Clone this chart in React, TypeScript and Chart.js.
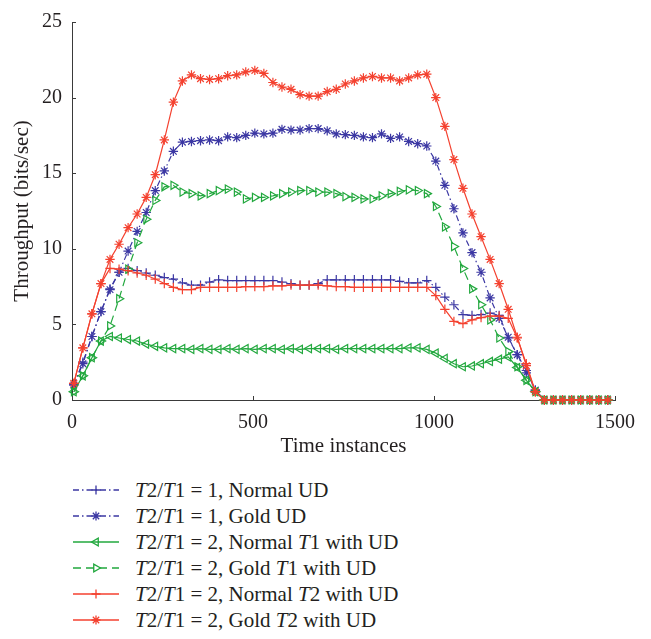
import React, { useEffect, useRef } from 'react';
import { Chart, registerables } from 'chart.js';

Chart.register(...registerables);

// ---- data ----
const timeInstances = [
  5, 30, 55, 80, 105, 130, 155, 180, 205, 230,
  255, 280, 305, 330, 355, 380, 405, 430, 455, 480,
  505, 530, 555, 580, 605, 630, 655, 680, 705, 730,
  755, 780, 805, 830, 855, 880, 905, 930, 955, 980,
  1005, 1030, 1055, 1080, 1105, 1130, 1155, 1180, 1205, 1230,
  1255, 1280, 1305, 1330, 1355, 1380, 1405, 1430, 1455, 1480,
];

const normalUD = [
  1.0, 2.5, 4.2, 5.85, 7.35, 8.45, 8.7, 8.55, 8.4, 8.25,
  8.1, 8.0, 7.75, 7.6, 7.6, 7.8, 7.95, 7.9, 7.9, 7.9,
  7.9, 7.9, 7.9, 7.8, 7.7, 7.6, 7.6, 7.7, 7.95, 7.95,
  7.95, 7.95, 7.95, 7.95, 7.95, 7.95, 7.85, 7.75, 7.75, 7.9,
  7.45, 6.8, 6.3, 5.65, 5.6, 5.65, 5.75, 5.6, 4.1, 3.0,
  1.95, 0.65, 0, 0, 0, 0, 0, 0, 0, 0,
];

const goldUD = [
  1.0, 2.4, 4.2, 5.85, 7.3, 8.45, 9.85, 11.15, 12.4, 13.85,
  15.15, 16.45, 17.05, 17.1, 17.15, 17.2, 17.15, 17.4, 17.35, 17.5,
  17.65, 17.6, 17.65, 17.9, 17.85, 17.85, 17.95, 17.95, 17.8, 17.6,
  17.55, 17.5, 17.4, 17.35, 17.6, 17.3, 17.4, 17.1, 16.95, 16.8,
  15.8, 14.2, 12.65, 11.05, 9.75, 8.45, 6.75, 5.4, 4.15, 3.0,
  1.8, 0.65, 0, 0, 0, 0, 0, 0, 0, 0,
];

const normalT1 = [
  0.55, 1.6, 2.8, 3.9, 4.2, 4.1, 4.0, 3.9, 3.7, 3.55,
  3.45, 3.4, 3.4, 3.35, 3.4, 3.35, 3.35, 3.4, 3.35, 3.4,
  3.35, 3.4, 3.4, 3.35, 3.4, 3.35, 3.4, 3.4, 3.4, 3.35,
  3.4, 3.4, 3.4, 3.4, 3.4, 3.4, 3.4, 3.45, 3.45, 3.35,
  3.1, 2.75, 2.4, 2.2, 2.25, 2.4, 2.55, 2.7, 2.85, 2.15,
  1.3, 0.55, 0, 0, 0, 0, 0, 0, 0, 0,
];

const goldT1 = [
  0.55, 1.6, 2.8, 3.9, 4.9, 6.7, 8.65, 10.4, 11.95, 13.2,
  14.1, 14.2, 13.75, 13.65, 13.5, 13.65, 13.85, 13.95, 13.75, 13.3,
  13.4, 13.4, 13.5, 13.65, 13.75, 13.85, 13.85, 13.75, 13.75, 13.65,
  13.45, 13.4, 13.3, 13.3, 13.5, 13.65, 13.8, 13.9, 13.85, 13.65,
  12.8, 11.45, 10.15, 8.7, 7.35, 6.3, 5.3, 4.1, 3.2, 2.2,
  1.3, 0.55, 0, 0, 0, 0, 0, 0, 0, 0,
];

const normalT2 = [
  1.1, 3.45, 5.7, 7.7, 8.7, 8.65, 8.55, 8.4, 8.25, 8.0,
  7.7, 7.45, 7.3, 7.3, 7.45, 7.45, 7.45, 7.45, 7.45, 7.5,
  7.5, 7.5, 7.55, 7.55, 7.6, 7.6, 7.6, 7.6, 7.55, 7.5,
  7.5, 7.45, 7.45, 7.45, 7.45, 7.45, 7.45, 7.45, 7.45, 7.45,
  6.9, 6.0, 5.2, 5.05, 5.3, 5.45, 5.55, 5.55, 5.4, 4.1,
  2.4, 0.55, 0, 0, 0, 0, 0, 0, 0, 0,
];

const goldT2 = [
  1.1, 3.45, 5.7, 7.7, 9.3, 10.3, 11.4, 12.3, 13.4, 14.9,
  17.2, 19.7, 21.1, 21.5, 21.25, 21.2, 21.25, 21.45, 21.5, 21.7,
  21.8, 21.6, 21.0, 20.7, 20.55, 20.2, 20.1, 20.1, 20.4, 20.55,
  20.9, 21.1, 21.3, 21.4, 21.3, 21.3, 21.1, 21.3, 21.5, 21.55,
  20.0, 18.1, 15.9, 14.0, 12.3, 10.8, 9.3, 7.7, 6.0, 4.15,
  2.27, 0.54, 0, 0, 0, 0, 0, 0, 0, 0,
];

const xTicks = [0, 500, 1000, 1500];
const yTicks = [0, 5, 10, 15, 20, 25];
const xTitle = 'Time instances';
const yTitle = 'Throughput (bits/sec)';

const BLUE = '#3b37a3';
const GREEN = '#22a83e';
const RED = '#f4412f';
const FONT = "'Liberation Serif', 'DejaVu Serif', serif";
const TEXT = '#231f20';

type Style = {
  key: string;
  values: number[];
  color: string;
  dash: number[];
  point: 'cross' | 'star' | 'triangle';
  rotation: number;
};

const series: Style[] = [
  { key: 'nUD', values: normalUD, color: BLUE, dash: [6, 3, 1.5, 3], point: 'cross', rotation: 0 },
  { key: 'gUD', values: goldUD, color: BLUE, dash: [6, 3, 1.5, 3], point: 'star', rotation: 0 },
  { key: 'nT1', values: normalT1, color: GREEN, dash: [], point: 'triangle', rotation: -90 },
  { key: 'gT1', values: goldT1, color: GREEN, dash: [8, 5], point: 'triangle', rotation: 90 },
  { key: 'nT2', values: normalT2, color: RED, dash: [], point: 'cross', rotation: 0 },
  { key: 'gT2', values: goldT2, color: RED, dash: [], point: 'star', rotation: 0 },
];

const legendLabels: React.ReactNode[] = [
  <><i>T</i>2/<i>T</i>1 = 1, Normal UD</>,
  <><i>T</i>2/<i>T</i>1 = 1, Gold UD</>,
  <><i>T</i>2/<i>T</i>1 = 2, Normal <i>T</i>1 with UD</>,
  <><i>T</i>2/<i>T</i>1 = 2, Gold <i>T</i>1 with UD</>,
  <><i>T</i>2/<i>T</i>1 = 2, Normal <i>T</i>2 with UD</>,
  <><i>T</i>2/<i>T</i>1 = 2, Gold <i>T</i>2 with UD</>,
];

const inwardTicks = {
  id: 'inwardTicks',
  afterDraw(chart: any) {
    const { ctx, chartArea } = chart;
    const xs = chart.scales.x;
    const ys = chart.scales.y;
    ctx.save();
    ctx.strokeStyle = '#3a3a3a';
    ctx.lineWidth = 1;
    ctx.setLineDash([]);
    xTicks.forEach((v) => {
      const px = Math.round(xs.getPixelForValue(v)) + 0.5;
      ctx.beginPath();
      ctx.moveTo(px, chartArea.bottom);
      ctx.lineTo(px, chartArea.bottom - 4);
      ctx.stroke();
    });
    yTicks.forEach((v) => {
      const py = Math.round(ys.getPixelForValue(v)) + 0.5;
      ctx.beginPath();
      ctx.moveTo(chartArea.left, py);
      ctx.lineTo(chartArea.left + 4, py);
      ctx.stroke();
    });
    ctx.restore();
  },
};

function drawMarker(ctx: CanvasRenderingContext2D, s: Style, x: number, y: number, r: number) {
  ctx.beginPath();
  if (s.point === 'cross' || s.point === 'star') {
    ctx.moveTo(x, y - r); ctx.lineTo(x, y + r);
    ctx.moveTo(x - r, y); ctx.lineTo(x + r, y);
    if (s.point === 'star') {
      const d = r * Math.SQRT1_2;
      ctx.moveTo(x - d, y - d); ctx.lineTo(x + d, y + d);
      ctx.moveTo(x - d, y + d); ctx.lineTo(x + d, y - d);
    }
  } else {
    const rad = (s.rotation * Math.PI) / 180;
    for (let i = 0; i < 3; i++) {
      const a = rad + (i * 2 * Math.PI) / 3;
      const px = x + Math.sin(a) * r;
      const py = y - Math.cos(a) * r;
      if (i === 0) ctx.moveTo(px, py); else ctx.lineTo(px, py);
    }
    ctx.closePath();
  }
  ctx.stroke();
}

function LegendSample({ s }: { s: Style }) {
  const ref = useRef<HTMLCanvasElement | null>(null);
  useEffect(() => {
    const c = ref.current;
    if (!c) return;
    const ctx = c.getContext('2d');
    if (!ctx) return;
    ctx.clearRect(0, 0, c.width, c.height);
    ctx.strokeStyle = s.color;
    ctx.lineWidth = 1.3;
    ctx.setLineDash(s.dash);
    ctx.beginPath();
    ctx.moveTo(2, 13);
    ctx.lineTo(48, 13);
    ctx.stroke();
    ctx.setLineDash([]);
    drawMarker(ctx, s, 25, 13, 4.5);
  }, [s]);
  return <canvas ref={ref} width={50} height={26} style={{ position: 'absolute', left: 71, top: 0 }} />;
}

export default function App() {
  const canvasRef = useRef<HTMLCanvasElement | null>(null);

  useEffect(() => {
    const canvas = canvasRef.current;
    if (!canvas) return;
    const font = { family: FONT, size: 20 };
    const chart = new Chart(canvas, {
      type: 'line',
      data: {
        datasets: series.map((s, i) => ({
          label: s.key,
          data: timeInstances.map((t, j) => ({ x: t, y: s.values[j] })),
          borderColor: s.color,
          borderWidth: 1.2,
          borderDash: s.dash,
          pointStyle: s.point,
          pointRotation: s.rotation,
          pointRadius: 4.7,
          pointBorderWidth: 1.2,
          pointBorderColor: s.color,
          pointBackgroundColor: 'rgba(255,255,255,0)',
          tension: 0,
          fill: false,
          clip: false as any,
          order: 5 - i,
        })),
      },
      options: {
        responsive: false,
        animation: false,
        events: [],
        layout: { padding: { left: 0, top: 15, right: 36, bottom: 10 } },
        plugins: { legend: { display: false }, tooltip: { enabled: false } },
        scales: {
          x: {
            type: 'linear',
            min: 0,
            max: 1500,
            afterBuildTicks: (sc: any) => { sc.ticks = xTicks.map((v) => ({ value: v })); },
            ticks: { color: TEXT, font, padding: 11, maxRotation: 0, callback: (v: any) => String(v) },
            grid: { display: false, drawTicks: false },
            border: { display: true, color: '#3a3a3a', width: 1 },
            title: { display: true, text: xTitle, color: TEXT, font: { family: FONT, size: 21 }, padding: { top: 0, bottom: 1 } },
            afterFit: (sc: any) => { sc.height = 60; },
          },
          y: {
            type: 'linear',
            min: 0,
            max: 25,
            afterBuildTicks: (sc: any) => { sc.ticks = yTicks.map((v) => ({ value: v })); },
            ticks: { color: TEXT, font, padding: 10, callback: (v: any) => String(v) },
            grid: { display: false, drawTicks: false },
            border: { display: true, color: '#3a3a3a', width: 1 },
            title: { display: true, text: yTitle, color: TEXT, font: { family: FONT, size: 21 }, padding: { top: 10, bottom: 0 } },
            afterFit: (sc: any) => { sc.width = 72; },
          },
        },
      },
      plugins: [inwardTicks],
    } as any);
    return () => chart.destroy();
  }, []);

  return (
    <div style={{ position: 'absolute', left: 0, top: 0, width: 651, height: 639, background: '#fff' }}>
      <canvas ref={canvasRef} width={651} height={470} style={{ position: 'absolute', left: 0, top: 0 }} />
      {series.map((s, i) => (
        <div
          key={s.key}
          style={{ position: 'absolute', left: 0, top: 477 + i * 25.9, width: 651, height: 26 }}
        >
          <LegendSample s={s} />
          <span
            style={{
              position: 'absolute',
              left: 135,
              top: 0,
              lineHeight: '26px',
              fontFamily: FONT,
              fontSize: 21,
              color: TEXT,
              whiteSpace: 'nowrap',
            }}
          >
            {legendLabels[i]}
          </span>
        </div>
      ))}
    </div>
  );
}
